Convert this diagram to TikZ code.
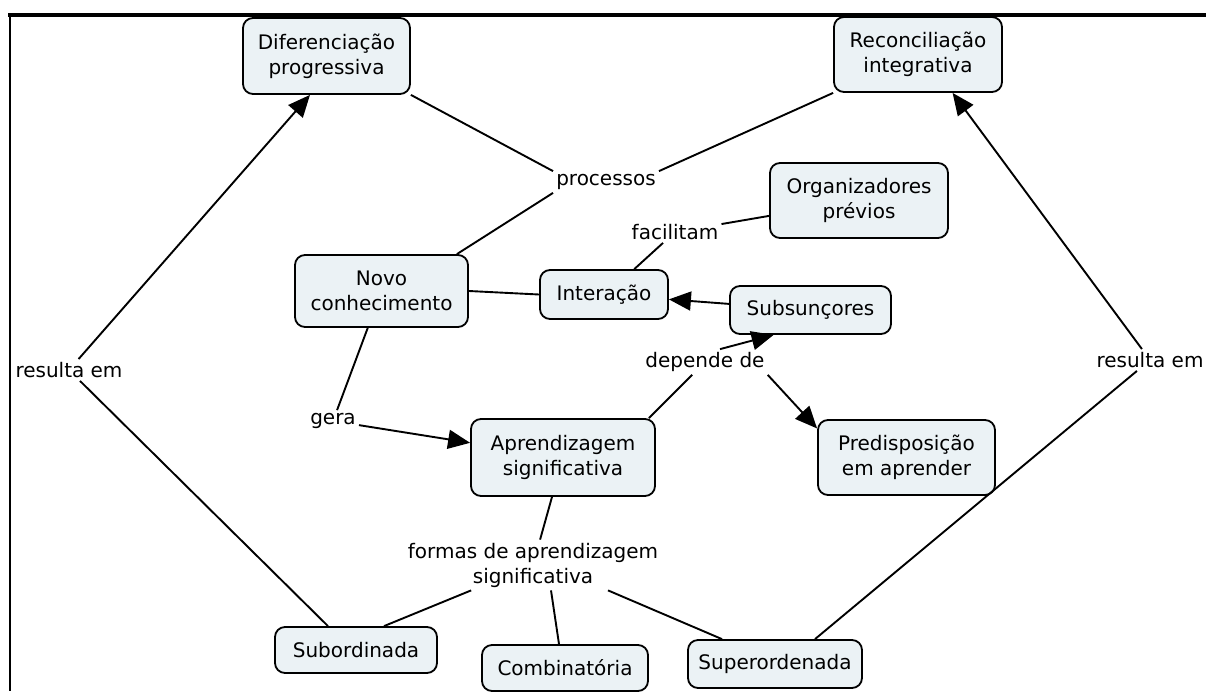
\documentclass[tikz,border=0pt]{standalone}
\usepackage{fontspec}
\setmainfont{DejaVu Sans}
\usetikzlibrary{arrows.meta}
\definecolor{boxfill}{RGB}{235,242,245}
\begin{document}
\begin{tikzpicture}[x=1pt,y=-1pt,
  concept/.style={draw=black, line width=1.8pt, rounded corners=10pt, fill=boxfill,
    align=center, font=\fontsize{20}{25}\selectfont, inner sep=0pt},
  linkword/.style={align=center, font=\fontsize{20}{25}\selectfont, inner sep=3pt},
  link/.style={line width=1.9pt},
  arrowlink/.style={link, -{Triangle[length=22pt,width=19pt]}}]
\path[use as bounding box] (0,0) rectangle (1206,691);

% frame
\draw[line width=3.5pt] (8,15) -- (1206,15);
\draw[line width=2.5pt] (10,15) -- (10,691);

% concepts
\node[concept, minimum width=167pt, minimum height=76pt] (dif) at (326.5,56) {Diferenciação\\progressiva};
\node[concept, minimum width=168pt, minimum height=75pt] (rec) at (918,54.5) {Reconciliação\\integrativa};
\node[concept, minimum width=178pt, minimum height=75pt] (org) at (859,200.5) {Organizadores\\prévios};
\node[concept, minimum width=173pt, minimum height=72pt] (novo) at (381.5,291) {Novo\\conhecimento};
\node[concept, minimum width=128pt, minimum height=49pt] (inter) at (604,294.5) {Interação};
\node[concept, minimum width=161pt, minimum height=48pt] (subs) at (810.5,310) {Subsunçores};
\node[concept, minimum width=184pt, minimum height=77pt] (apr) at (563,457.5) {Aprendizagem\\significativa};
\node[concept, minimum width=177pt, minimum height=75pt] (pred) at (906.5,457.5) {Predisposição\\em aprender};
\node[concept, minimum width=162pt, minimum height=46pt] (subord) at (356,650) {Subordinada};
\node[concept, minimum width=166pt, minimum height=46pt] (comb) at (565,668) {Combinatória};
\node[concept, minimum width=174pt, minimum height=48pt] (super) at (775,664) {Superordenada};

% linking words
\node[linkword] (proc) at (606,182) {processos};
\node[linkword] (facil) at (675,232) {facilitam};
\node[linkword] (dep) at (705,362) {depende de};
\node[linkword] (gera) at (333,421) {gera};
\node[linkword] (formas) at (533,565) {formas de aprendizagem\\significativa};
\node[linkword] (resL) at (69,370) {resulta em};
\node[linkword] (resR) at (1150,360) {resulta em};

% connectors
\draw[link] (proc.north west) -- (dif.south east);
\draw[link] (proc.north east) -- (rec.south west);
\draw[link] ([xshift=-12pt]novo.north east) -- (proc.south west);
\draw[link] (novo.east) -- (inter.west);
\draw[link] (inter.40) -- (facil);
\draw[link] (facil) -- (org);
\draw[arrowlink] (subs) -- (inter);
\draw[link] (novo) -- (gera);
\draw[arrowlink] (gera) -- (apr);
\draw[link] ([xshift=-7pt]apr.north east) -- (dep);
\draw[arrowlink] ([xshift=15pt]dep.north) -- (subs.-146);
\draw[arrowlink] (dep.south east) -- (pred.162);
\draw[link] (apr) -- (formas);
\draw[link] (formas) -- ([xshift=28pt]subord.north);
\draw[link] ([xshift=18pt]formas.south) -- ([xshift=-6pt]comb.north);
\draw[link] ([xshift=75pt]formas.south) -- ([xshift=-53pt]super.north);
\draw[link] ([xshift=-28pt]subord.north) -- (resL);
\draw[arrowlink] (resL) -- (dif.-113);
\draw[link] ([xshift=40pt]super.north) -- (resR);
\draw[arrowlink] (resR) -- (rec.-48.5);
\end{tikzpicture}
\end{document}
